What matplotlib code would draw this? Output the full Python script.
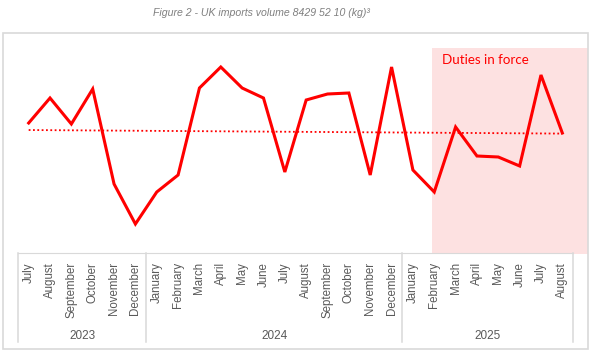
import numpy as np
import matplotlib
matplotlib.use("Agg")
import matplotlib.pyplot as plt
from matplotlib.patches import Rectangle
from matplotlib.lines import Line2D

# monthly import volumes (arbitrary units)
months = ["July", "August", "September", "October", "November", "December",
          "January", "February", "March", "April", "May", "June", "July",
          "August", "September", "October", "November", "December",
          "January", "February", "March", "April", "May", "June", "July", "August"]
volume = [130, 155, 129, 164, 69, 29, 61, 78, 165, 186, 165, 155, 81,
          153, 159, 160, 78, 186, 83, 61, 126, 97, 96, 87, 178, 120]
years = ["2023", "2024", "2025"]
year_start = [0, 6, 18]          # index of first month in each year
duties_start = 19                # February 2025

W, H = 595, 355
fig = plt.figure(figsize=(W / 100, H / 100), dpi=100)

def fx(px):
    return px / W

def fy(py):
    return 1 - py / H

# plot area in pixels: left 18, right 573, top 48, bottom 253
ax = fig.add_axes([fx(18), fy(253), fx(573) - fx(18), fy(48) - fy(253)])
x = np.arange(len(volume))
ax.set_xlim(-0.5, len(volume) - 0.5)
ax.set_ylim(0, 205)

# outer frame
fig.patches.append(Rectangle((fx(3), fy(349)), fx(588) - fx(3), fy(33) - fy(349),
                             transform=fig.transFigure, fill=False,
                             edgecolor="#d9d9d9", linewidth=1.2))

# shaded "duties in force" region
ax.add_patch(Rectangle((duties_start - 0.1, -1), 7.3, 206, facecolor="#fde1e1",
                       edgecolor="none", clip_on=False, zorder=0))
ax.text(duties_start + 0.35, 193, "Duties in force", color="#ff0000",
        fontsize=9.6, family="Lato", va="center", ha="left")

ax.plot(x, volume, color="#ff0000", linewidth=2.2, solid_joinstyle="miter", zorder=3)
k, b = np.polyfit(x, volume, 1)
ax.plot(x, k * x + b, color="#ff0000", linewidth=1.3, linestyle=(0, (1, 1.4)), zorder=2)

for s in ["top", "right", "left"]:
    ax.spines[s].set_visible(False)
ax.spines["bottom"].set_color("#d9d9d9")
ax.set_yticks([])
ax.set_xticks(x)
ax.set_xticklabels(months, rotation=90, fontsize=8.3, color="#595959",
                   family="Liberation Sans")
ax.tick_params(axis="x", length=0, pad=6.5)

# year group separators and labels
bounds = year_start + [len(volume)]
for i in range(len(bounds)):
    xb = bounds[i] - 0.5
    ax.add_line(Line2D([xb, xb], [0, -89], color="#d9d9d9", linewidth=1.1,
                       clip_on=False))
for i, yr in enumerate(years):
    xc = (bounds[i] + bounds[i + 1] - 1) / 2
    ax.text(xc, -83, yr, ha="center", va="center", fontsize=8.5, color="#595959",
            family="Liberation Sans")

fig.text(fx(261), fy(13), "Figure 2 - UK imports volume 8429 52 10 (kg)³", ha="center",
         va="center", fontsize=7.6, style="italic", color="#7f7f7f",
         family="Liberation Sans")

fig.savefig("out.png", dpi=100)
